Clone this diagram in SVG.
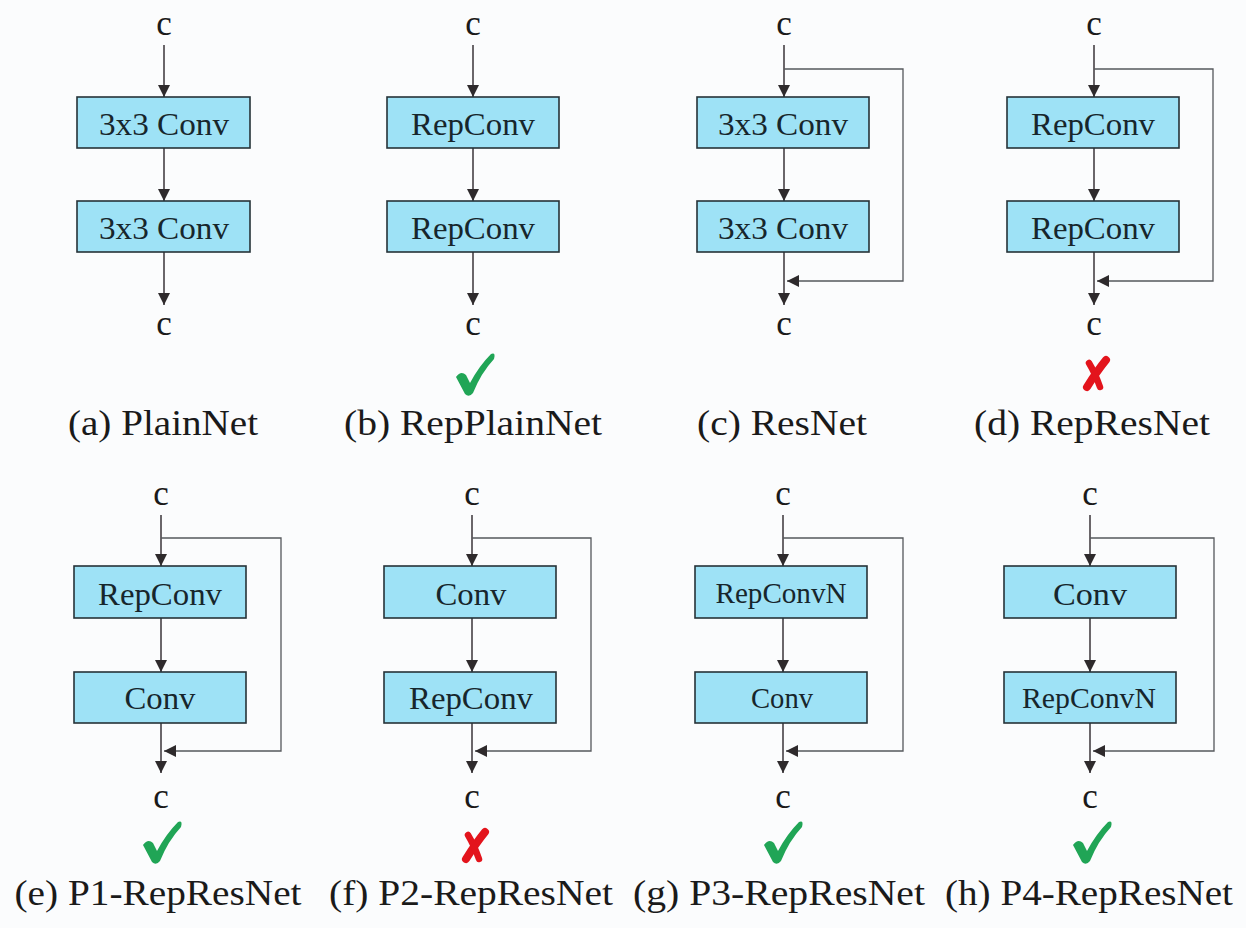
<svg xmlns="http://www.w3.org/2000/svg" width="1246" height="928" viewBox="0 0 1246 928">
<defs>
<style>
text{font-family:'Liberation Serif','Times New Roman',Times,serif}
.bg{fill:#fbfcfd}
.box{fill:#9ee2f6;stroke:#263238;stroke-width:1.6}
.bt{font-size:32px;fill:#17262c;text-anchor:middle}
.bts{font-size:29px;fill:#17262c;text-anchor:middle}
.c{font-size:35px;fill:#1a1a1a;text-anchor:middle}
.lab{font-size:35px;fill:#1a1a1a;text-anchor:middle}
.ar{stroke:#3a3438;stroke-width:1.5;fill:none}
.sk{stroke:#55585c;stroke-width:1.3;fill:none}
.ok{fill:#20a556}
.no{stroke:#e3141c;fill:none;stroke-linecap:round}
</style>
<marker id="ah" viewBox="0 0 12 12" refX="12" refY="6" markerWidth="12" markerHeight="12" markerUnits="userSpaceOnUse" orient="auto">
<path d="M0,0 L12,6 L0,12 Z" fill="#2e2a2c"/>
</marker>
<g id="check">
<path class="ok" d="M-19,2 Q-14,-5 -9,0 L-5,8 Q4,-9 16,-21 Q21,-23 19,-16 Q6,-2 -2,18 Q-6,23 -10,19 Z"/>
</g>
<g id="cross">
<path class="no" stroke-width="8" d="M10,-13 Q1,-2 -9,14"/>
<path class="no" stroke-width="6.5" d="M-7,-10 Q-1,0 4,14"/>
</g>
</defs>
<rect class="bg" x="0" y="0" width="1246" height="928"/>

<g id="connectors">
<line class="ar" x1="164" y1="45" x2="164" y2="97" marker-end="url(#ah)"/>
<line class="ar" x1="164" y1="148" x2="164" y2="201" marker-end="url(#ah)"/>
<line class="ar" x1="164" y1="252" x2="164" y2="305" marker-end="url(#ah)"/>
<line class="ar" x1="473" y1="45" x2="473" y2="97" marker-end="url(#ah)"/>
<line class="ar" x1="473" y1="148" x2="473" y2="201" marker-end="url(#ah)"/>
<line class="ar" x1="473" y1="252" x2="473" y2="305" marker-end="url(#ah)"/>
<line class="ar" x1="784" y1="45" x2="784" y2="97" marker-end="url(#ah)"/>
<line class="ar" x1="784" y1="148" x2="784" y2="201" marker-end="url(#ah)"/>
<line class="ar" x1="784" y1="252" x2="784" y2="305" marker-end="url(#ah)"/>
<polyline class="sk" points="784,69 903,69 903,281 787,281" marker-end="url(#ah)"/>
<line class="ar" x1="1094" y1="45" x2="1094" y2="97" marker-end="url(#ah)"/>
<line class="ar" x1="1094" y1="148" x2="1094" y2="201" marker-end="url(#ah)"/>
<line class="ar" x1="1094" y1="252" x2="1094" y2="305" marker-end="url(#ah)"/>
<polyline class="sk" points="1094,69 1213,69 1213,281 1097,281" marker-end="url(#ah)"/>
<line class="ar" x1="161" y1="515" x2="161" y2="566" marker-end="url(#ah)"/>
<line class="ar" x1="161" y1="618" x2="161" y2="672" marker-end="url(#ah)"/>
<line class="ar" x1="161" y1="723" x2="161" y2="773" marker-end="url(#ah)"/>
<polyline class="sk" points="161,538 281,538 281,751 164,751" marker-end="url(#ah)"/>
<line class="ar" x1="472" y1="515" x2="472" y2="566" marker-end="url(#ah)"/>
<line class="ar" x1="472" y1="618" x2="472" y2="672" marker-end="url(#ah)"/>
<line class="ar" x1="472" y1="723" x2="472" y2="773" marker-end="url(#ah)"/>
<polyline class="sk" points="472,538 591,538 591,751 475,751" marker-end="url(#ah)"/>
<line class="ar" x1="783" y1="515" x2="783" y2="566" marker-end="url(#ah)"/>
<line class="ar" x1="783" y1="618" x2="783" y2="672" marker-end="url(#ah)"/>
<line class="ar" x1="783" y1="723" x2="783" y2="773" marker-end="url(#ah)"/>
<polyline class="sk" points="783,538 903,538 903,751 786,751" marker-end="url(#ah)"/>
<line class="ar" x1="1090" y1="515" x2="1090" y2="566" marker-end="url(#ah)"/>
<line class="ar" x1="1090" y1="618" x2="1090" y2="672" marker-end="url(#ah)"/>
<line class="ar" x1="1090" y1="723" x2="1090" y2="773" marker-end="url(#ah)"/>
<polyline class="sk" points="1090,538 1214,538 1214,751 1093,751" marker-end="url(#ah)"/>
</g>

<g id="a-in"><text class="c" x="164" y="35">c</text></g>
<g id="a-conv1"><rect class="box" x="77" y="97" width="173" height="51"/><text class="bt" x="164" y="135" textLength="130" lengthAdjust="spacingAndGlyphs">3x3 Conv</text></g>
<g id="a-conv2"><rect class="box" x="77" y="201" width="173" height="51"/><text class="bt" x="164" y="239" textLength="130" lengthAdjust="spacingAndGlyphs">3x3 Conv</text></g>
<g id="a-out"><text class="c" x="164" y="335">c</text></g>
<g id="a-label"><text class="lab" x="163" y="435" textLength="190" lengthAdjust="spacingAndGlyphs">(a) PlainNet</text></g>

<g id="b-in"><text class="c" x="473" y="35">c</text></g>
<g id="b-conv1"><rect class="box" x="387" y="97" width="172" height="51"/><text class="bt" x="473" y="135" textLength="124" lengthAdjust="spacingAndGlyphs">RepConv</text></g>
<g id="b-conv2"><rect class="box" x="387" y="201" width="172" height="51"/><text class="bt" x="473" y="239" textLength="124" lengthAdjust="spacingAndGlyphs">RepConv</text></g>
<g id="b-out"><text class="c" x="473" y="335">c</text></g>
<use href="#check" transform="translate(475,375)"/>
<g id="b-label"><text class="lab" x="473" y="435" textLength="258" lengthAdjust="spacingAndGlyphs">(b) RepPlainNet</text></g>

<g id="c-in"><text class="c" x="784" y="35">c</text></g>
<g id="c-conv1"><rect class="box" x="697" y="97" width="172" height="51"/><text class="bt" x="783" y="135" textLength="130" lengthAdjust="spacingAndGlyphs">3x3 Conv</text></g>
<g id="c-conv2"><rect class="box" x="697" y="201" width="172" height="51"/><text class="bt" x="783" y="239" textLength="130" lengthAdjust="spacingAndGlyphs">3x3 Conv</text></g>
<g id="c-out"><text class="c" x="784" y="335">c</text></g>
<g id="c-label"><text class="lab" x="782" y="435" textLength="170" lengthAdjust="spacingAndGlyphs">(c) ResNet</text></g>

<g id="d-in"><text class="c" x="1094" y="35">c</text></g>
<g id="d-conv1"><rect class="box" x="1007" y="97" width="172" height="51"/><text class="bt" x="1093" y="135" textLength="124" lengthAdjust="spacingAndGlyphs">RepConv</text></g>
<g id="d-conv2"><rect class="box" x="1007" y="201" width="172" height="51"/><text class="bt" x="1093" y="239" textLength="124" lengthAdjust="spacingAndGlyphs">RepConv</text></g>
<g id="d-out"><text class="c" x="1094" y="335">c</text></g>
<use href="#cross" transform="translate(1096,373)"/>
<g id="d-label"><text class="lab" x="1092" y="435" textLength="236" lengthAdjust="spacingAndGlyphs">(d) RepResNet</text></g>

<g id="e-in"><text class="c" x="161" y="505">c</text></g>
<g id="e-conv1"><rect class="box" x="74" y="566" width="172" height="52"/><text class="bt" x="160" y="605" textLength="124" lengthAdjust="spacingAndGlyphs">RepConv</text></g>
<g id="e-conv2"><rect class="box" x="74" y="672" width="172" height="51"/><text class="bt" x="160" y="709" textLength="71" lengthAdjust="spacingAndGlyphs">Conv</text></g>
<g id="e-out"><text class="c" x="161" y="808">c</text></g>
<use href="#check" transform="translate(162,843)"/>
<g id="e-label"><text class="lab" x="158" y="905" textLength="287" lengthAdjust="spacingAndGlyphs">(e) P1-RepResNet</text></g>

<g id="f-in"><text class="c" x="472" y="505">c</text></g>
<g id="f-conv1"><rect class="box" x="384" y="566" width="172" height="52"/><text class="bt" x="471" y="605" textLength="71" lengthAdjust="spacingAndGlyphs">Conv</text></g>
<g id="f-conv2"><rect class="box" x="384" y="672" width="172" height="51"/><text class="bt" x="471" y="709" textLength="124" lengthAdjust="spacingAndGlyphs">RepConv</text></g>
<g id="f-out"><text class="c" x="472" y="808">c</text></g>
<use href="#cross" transform="translate(475,845)"/>
<g id="f-label"><text class="lab" x="471" y="905" textLength="284" lengthAdjust="spacingAndGlyphs">(f) P2-RepResNet</text></g>

<g id="g-in"><text class="c" x="783" y="505">c</text></g>
<g id="g-conv1"><rect class="box" x="695" y="566" width="172" height="52"/><text class="bts" x="781" y="603" textLength="131" lengthAdjust="spacingAndGlyphs">RepConvN</text></g>
<g id="g-conv2"><rect class="box" x="695" y="672" width="172" height="51"/><text class="bts" x="782" y="708" textLength="62" lengthAdjust="spacingAndGlyphs">Conv</text></g>
<g id="g-out"><text class="c" x="783" y="808">c</text></g>
<use href="#check" transform="translate(783,843)"/>
<g id="g-label"><text class="lab" x="779" y="905" textLength="292" lengthAdjust="spacingAndGlyphs">(g) P3-RepResNet</text></g>

<g id="h-in"><text class="c" x="1090" y="505">c</text></g>
<g id="h-conv1"><rect class="box" x="1004" y="566" width="172" height="52"/><text class="bt" x="1090" y="605" textLength="74" lengthAdjust="spacingAndGlyphs">Conv</text></g>
<g id="h-conv2"><rect class="box" x="1004" y="672" width="172" height="51"/><text class="bts" x="1089" y="708" textLength="134" lengthAdjust="spacingAndGlyphs">RepConvN</text></g>
<g id="h-out"><text class="c" x="1090" y="808">c</text></g>
<use href="#check" transform="translate(1092,843)"/>
<g id="h-label"><text class="lab" x="1089" y="905" textLength="288" lengthAdjust="spacingAndGlyphs">(h) P4-RepResNet</text></g>
</svg>
